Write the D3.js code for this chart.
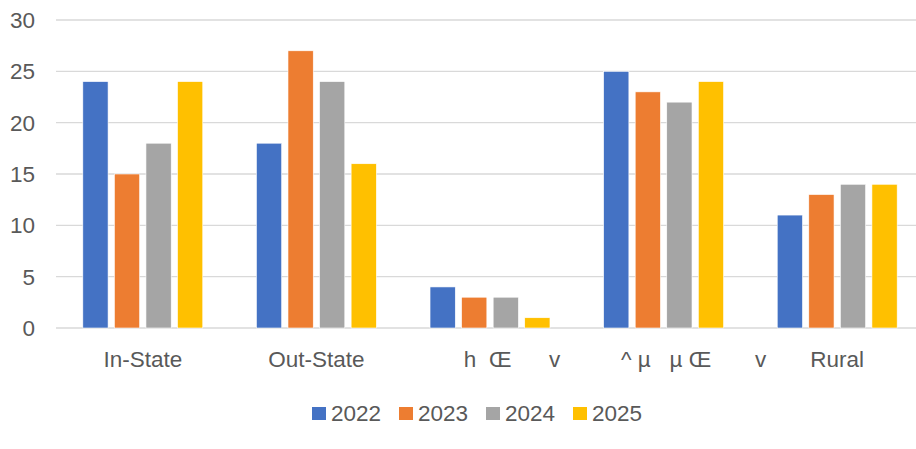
<!DOCTYPE html>
<html>
<head>
<meta charset="utf-8">
<script src="https://cdn.jsdelivr.net/npm/d3@7"></script>
<style>
  body { margin: 0; background: #fff; }
  text { font-family: "Liberation Sans", Arial, sans-serif; fill: #595959; }
</style>
</head>
<body>
<svg id="chart" width="916" height="449"></svg>
<script>
// 数据
const categories = ['In-State', 'Out-State', 'h  Œ      v', '^ µ   µ Œ       v', 'Rural'];
const labelShift = [0, 0, 22, 30, 0];
const series = ['2022', '2023', '2024', '2025'];
const colors = ['#4472C4', '#ED7D31', '#A5A5A5', '#FFC000'];
const values2022 = [24, 18, 4, 25, 11];
const values2023 = [15, 27, 3, 23, 13];
const values2024 = [18, 24, 3, 22, 14];
const values2025 = [24, 16, 1, 24, 14];
const yTicks = [0, 5, 10, 15, 20, 25, 30];

const allValues = [values2022, values2023, values2024, values2025];

const svg = d3.select('#chart');

// 比例尺
const x0 = d3.scaleBand().domain(categories).range([56, 924]).padding(0);
const x1 = d3.scaleBand().domain(series).range([0, x0.bandwidth()])
    .paddingInner(0.2).paddingOuter(0.85);
const y = d3.scaleLinear().domain([0, 30]).range([328, 20]);

// 网格线
svg.append('g')
    .selectAll('line')
    .data(yTicks)
    .enter()
    .append('line')
    .attr('x1', 56)
    .attr('x2', 916)
    .attr('y1', d => y(d))
    .attr('y2', d => y(d))
    .attr('stroke', '#d9d9d9')
    .attr('stroke-width', 1.3);

// Y轴标签
svg.append('g')
    .selectAll('text')
    .data(yTicks)
    .enter()
    .append('text')
    .attr('x', 35)
    .attr('y', d => y(d))
    .attr('dy', '0.36em')
    .attr('text-anchor', 'end')
    .style('font-size', '22.5px')
    .text(d => d);

// 柱子
const groups = svg.append('g')
    .selectAll('g')
    .data(categories)
    .enter()
    .append('g')
    .attr('transform', d => `translate(${x0(d)},0)`);

groups.selectAll('rect')
    .data((d, i) => series.map((s, j) => ({ s, j, v: allValues[j][i] })))
    .enter()
    .append('rect')
    .attr('x', d => x1(d.s))
    .attr('y', d => y(d.v))
    .attr('width', x1.bandwidth())
    .attr('height', d => y(0) - y(d.v))
    .attr('fill', d => colors[d.j])
    .attr('stroke', '#fff')
    .attr('stroke-width', 0.6);

// 分类标签
svg.append('g')
    .selectAll('text')
    .data(categories)
    .enter()
    .append('text')
    .attr('x', (d, i) => x0(d) + x0.bandwidth() / 2 + labelShift[i])
    .attr('y', 367)
    .attr('text-anchor', 'middle')
    .attr('xml:space', 'preserve')
    .style('white-space', 'pre')
    .style('font-size', '22.5px')
    .text(d => d);

// 图例
const legend = svg.append('g')
    .selectAll('g')
    .data(series)
    .enter()
    .append('g')
    .attr('transform', (d, i) => `translate(${312 + i * 87},0)`);

legend.append('rect')
    .attr('x', 0)
    .attr('y', 407)
    .attr('width', 14)
    .attr('height', 13)
    .attr('fill', (d, i) => colors[i]);

legend.append('text')
    .attr('x', 19)
    .attr('y', 421)
    .style('font-size', '22.5px')
    .text(d => d);
</script>
</body>
</html>
